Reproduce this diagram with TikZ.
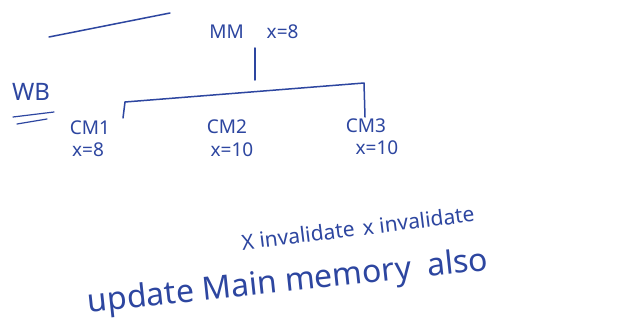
\documentclass[tikz,border=0pt]{standalone}
\usepackage{fontspec}
\setmainfont{Noto Sans}
\definecolor{ink}{RGB}{45,70,160}
\begin{document}
\begin{tikzpicture}[x=1pt,y=-1pt,
  pen/.style={draw=ink,line width=1.5pt,line cap=round,line join=round},
  lab/.style={text=ink,inner sep=0pt,font=\fontsize{19}{21}\selectfont},
  note/.style={text=ink,inner sep=0pt}]
\useasboundingbox[fill=white] (0,0) rectangle (628,329);
% top-left stroke
\coordinate (s1) at (49,37);
\coordinate (s2) at (170,13);
\draw[pen] (s1) -- (s2);
% main memory
\node[lab] (mm) at (254,32) {MM\hspace{1.2em}x=8};
\coordinate (mmb) at (255,48);
\coordinate (jn) at (255,80);
\draw[pen] (mmb) -- (jn);
% write-back label
\node[lab,font=\fontsize{24}{26}\selectfont] (wb) at (31,92) {WB};
\coordinate (u1a) at (13,117); \coordinate (u1b) at (54,112);
\coordinate (u2a) at (17,124); \coordinate (u2b) at (47,119);
\draw[pen,line width=1.2pt] (u1a) -- (u1b);
\draw[pen,line width=1.2pt] (u2a) -- (u2b);
% caches
\node[lab] (cm1) at (90,128) {CM1};
\node[lab] (cm2) at (227,127) {CM2};
\node[lab] (cm3) at (366,126) {CM3};
\node[lab] (x1) at (88,150) {x=8};
\node[lab] (x2) at (232,150) {x=10};
\node[lab] (x3) at (377,148) {x=10};
% bracket
\coordinate (bl) at (125,102);
\coordinate (br) at (364,83);
\coordinate (blb) at (123,118);
\coordinate (brb) at (365,117);
\draw[pen] (blb) -- (bl) -- (br) -- (brb);
% notes
\node[note,rotate=7,font=\fontsize{21}{23}\selectfont] (inv) at (358,228) {X invalidate\hspace{0.4em}x invalidate};
\node[note,rotate=6,font=\fontsize{32}{34}\selectfont] (upd) at (288,283) {update Main memory\hspace{0.5em}also};
\end{tikzpicture}
\end{document}
